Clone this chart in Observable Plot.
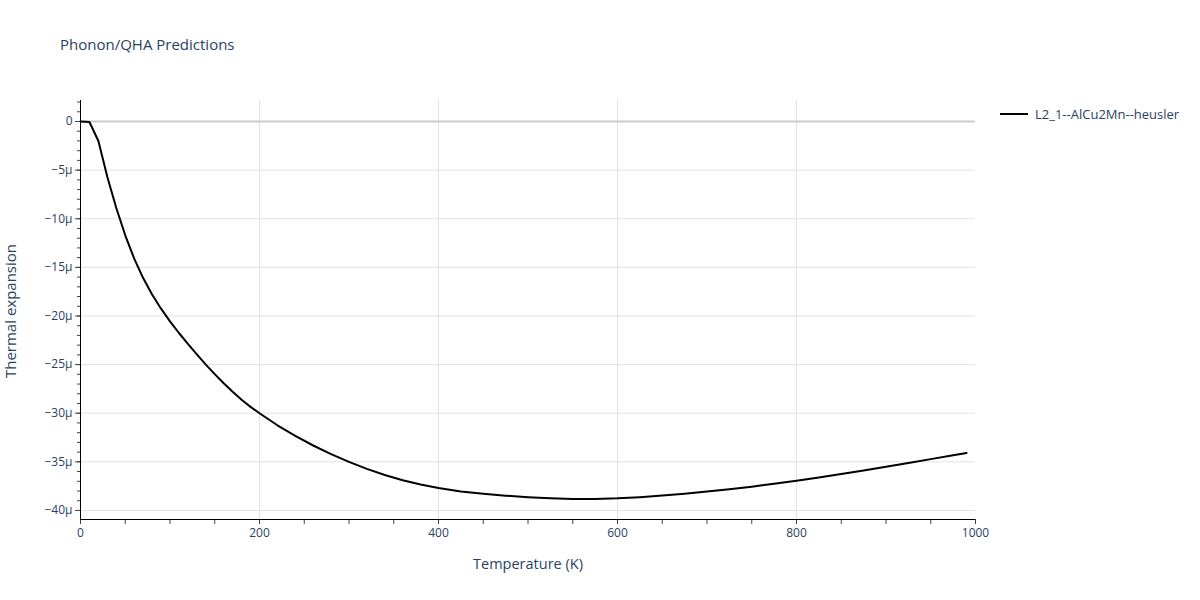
<!DOCTYPE html>
<html>
<head>
<meta charset="utf-8">
<script src="https://cdn.jsdelivr.net/npm/d3@7"></script>
<script src="https://cdn.jsdelivr.net/npm/@observablehq/plot@0.6"></script>
<style>
  body { margin: 0; background: #fff; font-family: "Open Sans", verdana, arial, sans-serif; }
  #wrap { position: relative; width: 1200px; height: 600px; }
  #title { position: absolute; left: 60px; top: 34px; font-size: 15px; color: #2a3f5f; white-space: nowrap; }
  #legend { position: absolute; left: 1000px; top: 105px; font-size: 13px; color: #2a3f5f; display: flex; align-items: center; white-space: nowrap; }
  #legend .sw { width: 28px; height: 2px; background: #000; margin-right: 7px; }
  #chart { position: absolute; left: 0; top: 0; }
  .axlabel { position: absolute; font-size: 14.5px; color: #2a3f5f; white-space: nowrap; transform: translate(-50%, -50%); }
  #xlabel { left: 528px; top: 563px; }
  #ylabel { left: 10px; top: 311px; transform: translate(-50%, -50%) rotate(-90deg); font-size: 15px; }
</style>
</head>
<body>
<div id="wrap">
  <div id="chart"></div>
  <div id="title">Phonon/QHA Predictions</div>
  <div id="legend"><span class="sw"></span><span id="legendText"></span></div>
  <div class="axlabel" id="xlabel"></div>
  <div class="axlabel" id="ylabel"></div>
</div>
<script>
// ---- data ----
const seriesName = "L2_1--AlCu2Mn--heusler";
const xLabel = "Temperature (K)";
const yLabel = "Thermal expansion";
const temperatures = [0,10,20,30,40,50,60,70,80,90,100,110,120,130,140,150,160,170,180,190,200,220,240,260,280,300,320,340,360,380,400,425,450,475,500,525,550,575,600,625,650,675,700,725,750,775,800,825,850,875,900,925,950,975,990];
// thermal expansion in units of 1e-6
const expansionMicro = [0,-0.05,-2.0,-5.7,-8.9,-11.7,-14.1,-16.1,-17.8,-19.25,-20.55,-21.75,-22.87,-23.95,-25.0,-25.98,-26.92,-27.8,-28.62,-29.35,-30.0,-31.24,-32.34,-33.32,-34.2,-35.0,-35.72,-36.36,-36.9,-37.34,-37.7,-38.04,-38.28,-38.48,-38.64,-38.75,-38.81,-38.81,-38.75,-38.63,-38.47,-38.27,-38.05,-37.81,-37.55,-37.26,-36.95,-36.61,-36.26,-35.89,-35.51,-35.12,-34.72,-34.32,-34.08];
const xTicks = [0,200,400,600,800,1000];
const xGrid = [200,400,600,800];
const xMinorTicks = d3.range(0, 1001, 50);
const yTicksMicro = [0,-5,-10,-15,-20,-25,-30,-35,-40];
const yMinorMicro = d3.range(-40, 3, 1);
const xDomain = [0, 1000];
const yDomainMicro = [-40.93, 2.16];

const data = temperatures.map((t, i) => ({T: t, a: expansionMicro[i] * 1e-6}));
const yTicks = yTicksMicro.map(v => v * 1e-6);
const yMinor = yMinorMicro.map(v => v * 1e-6);
const yDomain = yDomainMicro.map(v => v * 1e-6);

const fmtY = v => {
  const m = Math.round(v * 1e6);
  return m === 0 ? "0" : (m < 0 ? "\u2212" : "") + Math.abs(m) + "\u03bc";
};

document.getElementById("legendText").textContent = seriesName;
document.getElementById("xlabel").textContent = xLabel;
document.getElementById("ylabel").textContent = yLabel;

const textColor = "#2a3f5f";
const plot = Plot.plot({
  width: 1200,
  height: 600,
  marginLeft: 80,
  marginRight: 225,
  marginTop: 100,
  marginBottom: 81,
  style: {fontFamily: '"Open Sans", verdana, arial, sans-serif', fontSize: "12px", background: "white", overflow: "visible"},
  x: {domain: xDomain},
  y: {domain: yDomain},
  marks: [
    Plot.gridX(xGrid, {stroke: "#e2e2e2", strokeOpacity: 1, strokeWidth: 1}),
    Plot.gridY(yTicks.filter(v => v !== 0), {stroke: "#e2e2e2", strokeOpacity: 1, strokeWidth: 1}),
    Plot.ruleY([0], {stroke: "#cccccc", strokeWidth: 2}),
    Plot.axisX(xMinorTicks, {tickSize: 5, stroke: "#444", tickFormat: () => "", label: null}),
    Plot.axisX(xTicks, {tickSize: 5, tickPadding: 4, stroke: "#444", fill: textColor, fontSize: 12,
      tickFormat: d => String(d), label: null}),
    Plot.axisY(yMinor, {tickSize: 3, stroke: "#444", tickFormat: () => "", label: null}),
    Plot.axisY(yTicks, {tickSize: 5, tickPadding: 3, stroke: "#444", fill: textColor, fontSize: 12,
      tickFormat: fmtY, label: null}),
    Plot.ruleX([xDomain[0]], {stroke: "#000", strokeWidth: 1}),
    Plot.ruleY([yDomain[0]], {stroke: "#000", strokeWidth: 1}),
    Plot.line(data, {x: "T", y: "a", stroke: "#000", strokeWidth: 2, curve: "linear"})
  ]
});
document.getElementById("chart").appendChild(plot);
</script>
</body>
</html>
